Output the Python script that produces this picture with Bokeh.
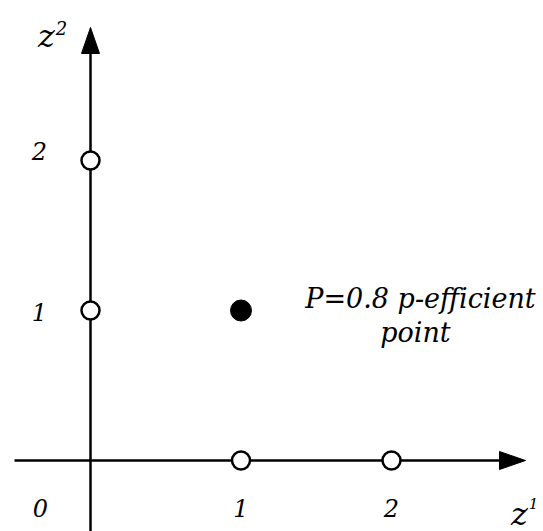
from bokeh.plotting import figure
from bokeh.models import Range1d
from bokeh.core.properties import value
from bokeh.embed import file_html
from bokeh.resources import INLINE

# Lattice points on the axes (open) and the p-efficient point (filled)
open_x = [1, 2, 0, 0]
open_y = [0, 0, 1, 2]
eff_x = [1]
eff_y = [1]

# Tick labels
x_ticks = [0, 1, 2]
x_tick_labels = ["0", "1", "2"]
y_ticks = [1, 2]
y_tick_labels = ["1", "2"]

annotation_lines = ["P=0.8 p-efficient", "point"]

W, H = 543, 531
# data window: 150.5 px per unit horizontally, 150 px per unit vertically
x0, x1 = -90 / 150.5, (W - 90) / 150.5
y0, y1 = -(H - 460) / 150, 460 / 150
ux, uy = 1 / 150.5, 1 / 150  # one pixel in data units


def px_x(px):
    return x0 + px * ux


def px_y(py):
    return y1 - py * uy


p = figure(width=W, height=H, output_backend="svg", toolbar_location=None,
           x_range=Range1d(x0, x1), y_range=Range1d(y0, y1),
           min_border=0, outline_line_color=None)
p.axis.visible = False
p.grid.visible = False

FONT = value("DejaVu Serif")

# axis lines
hx_end = px_x(525)
vy_end = px_y(27)
p.line([px_x(14), hx_end - 20 * ux], [0, 0], line_width=2.5, color="black")
p.line([0, 0], [y0, vy_end - 20 * uy], line_width=2.5, color="black")

# arrow heads
p.patch([hx_end, hx_end - 26 * ux, hx_end - 26 * ux], [0, 9 * uy, -9 * uy], color="black")
p.patch([0, 9 * ux, -9 * ux], [vy_end, vy_end - 26 * uy, vy_end - 26 * uy], color="black")

# points
p.scatter(open_x, open_y, size=18, fill_color="white", line_color="black", line_width=2.5)
p.scatter(eff_x, eff_y, size=21, fill_color="black", line_color="black")

# tick labels: the origin label sits left of the vertical axis
x_label_pos = [px_x(40) if t == 0 else t for t in x_ticks]
p.text(x_label_pos, [px_y(507)] * len(x_ticks), text=x_tick_labels,
       text_font=FONT, text_font_style="italic", text_font_size="24px",
       text_align="center", text_baseline="middle")
y_label_shift = [-1, 10]  # pixel nudges upward per label
p.text([px_x(39)] * len(y_ticks), [t + d * uy for t, d in zip(y_ticks, y_label_shift)],
       text=y_tick_labels, text_font=FONT, text_font_style="italic",
       text_font_size="24px", text_align="center", text_baseline="middle")

# axis names z^1, z^2
p.text([px_x(519)], [px_y(513)], text=["z"], text_font=FONT,
       text_font_style="italic", text_font_size="32px", text_align="center",
       text_baseline="alphabetic")
p.text([px_x(533)], [px_y(503)], text=["1"], text_font=FONT,
       text_font_style="italic", text_font_size="15px", text_align="center",
       text_baseline="alphabetic")
p.text([px_x(46)], [px_y(35)], text=["z"], text_font=FONT,
       text_font_style="italic", text_font_size="32px", text_align="center",
       text_baseline="alphabetic")
p.text([px_x(61)], [px_y(27)], text=["2"], text_font=FONT,
       text_font_style="italic", text_font_size="18px", text_align="center",
       text_baseline="alphabetic")

# annotation
p.text([px_x(420), px_x(415)], [px_y(298), px_y(332)],
       text=annotation_lines, text_font=FONT, text_font_style="italic",
       text_font_size="27px", text_align="center", text_baseline="alphabetic")

open("out.html", "w").write(file_html(p, INLINE))
